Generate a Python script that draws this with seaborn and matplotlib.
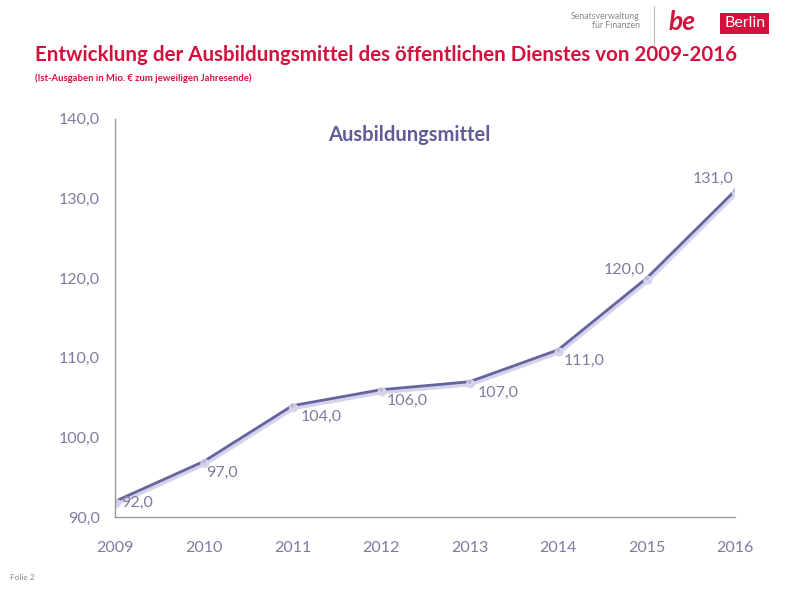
import matplotlib
matplotlib.use("Agg")
import matplotlib.pyplot as plt
import matplotlib.patheffects as pe
import seaborn as sns
import pandas as pd

years = [2009, 2010, 2011, 2012, 2013, 2014, 2015, 2016]
mittel = [92.0, 97.0, 104.0, 106.0, 107.0, 111.0, 120.0, 131.0]
y_ticks = [90, 100, 110, 120, 130, 140]

# label offsets in points (dx, dy) per year
label_pos = [(4, -1), (2, -3), (6, -3), (4, -3), (6, -3), (4, -3), (-1, 1), (-1, 3)]

sns.set_theme(style="white")
plt.rcParams['font.family'] = ['Lato', 'DejaVu Sans']

df = pd.DataFrame({"Jahr": years, "Mio": mittel})

line_col = "#66649C"
tick_col = "#7D7CA0"
red = "#D4113D"

fig = plt.figure(figsize=(8, 6), dpi=100)
ax = fig.add_axes([0.144, 0.138, 0.775, 0.664])

sns.lineplot(data=df, x="Jahr", y="Mio", ax=ax, color=line_col, linewidth=2.0,
             marker="o", markersize=3, markeredgewidth=0, markerfacecolor="#B8B7D8",
             path_effects=[pe.SimpleLineShadow(offset=(0.8, -1.5), shadow_color="#D4D3EC", alpha=1, linewidth=3.5),
                           pe.Normal()])

for (x, y), (dx, dy) in zip(zip(years, mittel), label_pos):
    ha = "left" if dx >= 0 else "right"
    va = "center" if dy == -1 else ("top" if dy < 0 else "bottom")
    ax.annotate(f"{y:.1f}".replace(".", ","), (x, y), xytext=(dx, dy), textcoords="offset points",
                ha=ha, va=va, fontsize=11.5, color=tick_col)

ax.set_xlim(2009, 2016)
ax.set_ylim(90, 140)
ax.set_xticks(years)
ax.set_yticks(y_ticks)
ax.set_yticklabels([f"{v:.1f}".replace(".", ",") for v in y_ticks])
ax.tick_params(axis="both", colors="#9A9A9A", labelcolor=tick_col, labelsize=11.5)
ax.tick_params(axis="x", direction="out", length=5, width=1, pad=12)
ax.tick_params(axis="y", direction="out", length=0, pad=11)
ax.set_xlabel("")
ax.set_ylabel("")
for s in ["top", "right"]:
    ax.spines[s].set_visible(False)
for s in ["left", "bottom"]:
    ax.spines[s].set_color("#9A9A9A")
    ax.spines[s].set_linewidth(1)

ax.text(0.474, 0.96, "Ausbildungsmittel", transform=ax.transAxes, ha="center", va="center",
        fontsize=14.5, fontweight="bold", color="#5F5C96")

fig.text(0.044, 0.908, "Entwicklung der Ausbildungsmittel des öffentlichen Dienstes von 2009-2016",
         fontsize=14.8, fontweight="bold", color=red, ha="left", va="center")
fig.text(0.044, 0.87, "(Ist-Ausgaben in Mio. € zum jeweiligen Jahresende)",
         fontsize=6.8, fontweight="bold", color=red, ha="left", va="center")

# logo
fig.text(0.80, 0.965, "Senatsverwaltung\nfür Finanzen", fontsize=6.3, color="#8A8A8A",
         ha="right", va="center", linespacing=1.1)
fig.add_artist(plt.Line2D([0.818, 0.818], [0.925, 0.99], color="#BBBBBB", linewidth=0.8))
fig.text(0.835, 0.963, "be", fontsize=19, fontweight="bold", style="italic", color=red,
         ha="left", va="center")
fig.text(0.905, 0.961, "Berlin", fontsize=11.5, color="white", ha="left", va="center",
         bbox=dict(boxstyle="square,pad=0.22", facecolor=red, edgecolor="none"))

fig.text(0.012, 0.037, "Folie 2", fontsize=6, color="#888888", ha="left", va="center")

fig.savefig("out.png", dpi=100)
